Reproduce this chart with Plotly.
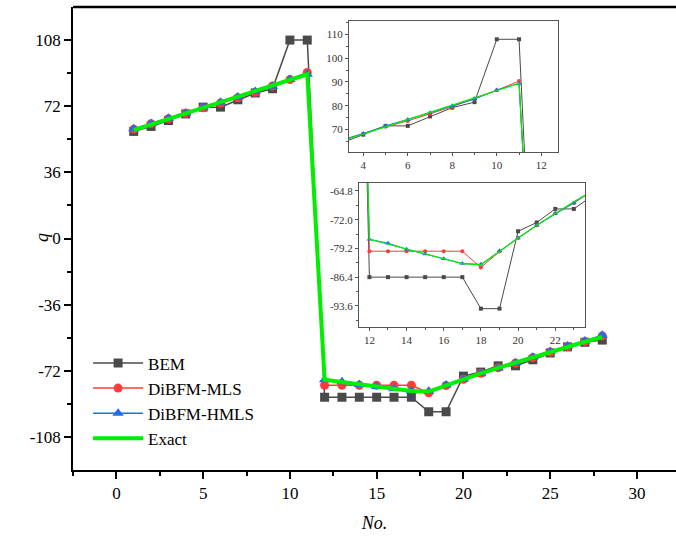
import plotly.graph_objects as go

# ---- data ----
node_no = list(range(1, 29))
bem = [58.3, 61.0, 64.2, 67.8, 71.5, 71.5, 75.5, 79.2, 81.5, 108.0, 108.0,
       -86.4, -86.4, -86.4, -86.4, -86.4, -86.4, -94.3, -94.3, -74.9, -72.7,
       -69.3, -69.3, -66.0, -62.3, -59.0, -56.5, -55.3]
dibfm_mls = [59.5, 62.5, 65.2, 68.2, 71.1, 73.6, 76.6, 79.6, 83.0, 86.5, 90.4,
             -79.9, -79.9, -79.9, -79.9, -79.9, -79.9, -84.0, -80.0, -76.6, -73.4,
             -70.4, -67.8, -64.8, -61.8, -58.8, -56.0, -53.0]
dibfm_hmls = [59.8, 62.6, 65.4, 68.3, 71.5, 74.2, 77.0, 80.0, 82.8, 86.6, 89.4,
              -76.9, -77.9, -79.4, -80.6, -81.8, -83.0, -83.2, -79.8, -76.6, -73.4,
              -70.5, -67.8, -64.6, -61.5, -58.5, -55.8, -52.6]
exact = [59.0, 62.0, 65.1, 68.1, 71.2, 74.2, 77.2, 80.3, 83.3, 86.4, 89.4,
         -76.9, -78.1, -79.4, -80.6, -81.8, -83.0, -83.3, -79.9, -76.6, -73.4,
         -70.4, -67.5, -64.8, -61.8, -58.8, -56.2, -53.6]

main_xticks = [0, 5, 10, 15, 20, 25, 30]
main_yticks = [-108, -72, -36, 0, 36, 72, 108]
inset1_xticks = [4, 6, 8, 10, 12]
inset1_yticks = [70, 80, 90, 100, 110]
inset2_xticks = [12, 14, 16, 18, 20, 22]
inset2_yticks = [-93.6, -86.4, -79.2, -72.0, -64.8]

names = ["BEM", "DiBFM-MLS", "DiBFM-HMLS", "Exact"]
series = [bem, dibfm_mls, dibfm_hmls, exact]
colors = ["#4a4a4a", "#ff3b3b", "#1f6fe8", "#00ee00"]
symbols = ["square", "circle", "triangle-up", None]

FONT = "Liberation Serif, Times New Roman, serif"
fig = go.Figure()

# main traces
for nm, ys, c, s in zip(names, series, colors, symbols):
    if s is None:
        fig.add_trace(go.Scatter(x=node_no, y=ys, name=nm, mode="lines",
                                 line=dict(color=c, width=4)))
    else:
        fig.add_trace(go.Scatter(x=node_no, y=ys, name=nm, mode="lines+markers",
                                 line=dict(color=c, width=1.5),
                                 marker=dict(symbol=s, size=9 if s != "triangle-up" else 10, color=c)))

# inset traces
for ax in ("2", "3"):
    for nm, ys, c, s in zip(names, series, colors, symbols):
        if s is None:
            fig.add_trace(go.Scatter(x=node_no, y=ys, mode="lines", showlegend=False,
                                     line=dict(color=c, width=1.2),
                                     xaxis="x" + ax, yaxis="y" + ax))
        else:
            fig.add_trace(go.Scatter(x=node_no, y=ys, mode="lines+markers", showlegend=False,
                                     line=dict(color=c, width=1),
                                     marker=dict(symbol=s, size=4 if s != "triangle-up" else 5, color=c),
                                     xaxis="x" + ax, yaxis="y" + ax))

W, H = 676, 538
L, R, T, B = 73, 0, 7, 68
pw, ph = W - L - R, H - T - B


def dom_x(a, b):
    return [(a - L) / pw, (b - L) / pw]


def dom_y(top, bot):
    return [(H - B - bot) / ph, (H - B - top) / ph]


main_axis = dict(showline=True, linecolor="black", linewidth=1.5, ticks="outside",
                 ticklen=7, tickwidth=1.5, tickcolor="black", showgrid=False, zeroline=False,
                 tickfont=dict(family=FONT, size=17, color="black"))

inset_axis = dict(showline=True, mirror=True, linecolor="#555555", linewidth=1, ticks="outside",
                  ticklen=3, tickwidth=1, tickcolor="#555555", showgrid=False, zeroline=False,
                  tickfont=dict(family=FONT, size=11, color="#333333"))

fig.update_layout(
    width=W, height=H, margin=dict(l=L, r=R, t=T, b=B),
    paper_bgcolor="white", plot_bgcolor="white",
    font=dict(family=FONT, color="black"),
    xaxis=dict(main_axis, range=[-2.5, 32.25], domain=[0, 1],
               tickvals=main_xticks, ticktext=[str(v) for v in main_xticks],
               minor=dict(tickvals=[-2.5 + 5 * i for i in range(7)], ticks="outside",
                          ticklen=4, tickwidth=1.5, tickcolor="black"),
               title=dict(text="<i>No.</i>", font=dict(family=FONT, size=18), standoff=14)),
    yaxis=dict(main_axis, range=[-126, 126], domain=[0, 1],
               tickvals=main_yticks, ticktext=[str(v) for v in main_yticks],
               minor=dict(tickvals=[-90, -54, -18, 18, 54, 90], ticks="outside",
                          ticklen=4, tickwidth=1.5, tickcolor="black")),
    xaxis2=dict(inset_axis, anchor="y2", domain=dom_x(349, 558), range=[3.36, 12.75],
                tickvals=inset1_xticks, ticktext=[str(v) for v in inset1_xticks],
                minor=dict(tickvals=[5, 7, 9, 11], ticks="outside", ticklen=2, tickcolor="#555555")),
    yaxis2=dict(inset_axis, anchor="x2", domain=dom_y(21, 152), range=[60.5, 115.7],
                tickvals=inset1_yticks, ticktext=[str(v) for v in inset1_yticks],
                minor=dict(tickvals=[65, 75, 85, 95, 105, 115], ticks="outside", ticklen=2,
                           tickcolor="#555555")),
    xaxis3=dict(inset_axis, anchor="y3", domain=dom_x(359, 585), range=[11.44, 23.6],
                tickvals=inset2_xticks, ticktext=[str(v) for v in inset2_xticks],
                minor=dict(tickvals=[13, 15, 17, 19, 21, 23], ticks="outside", ticklen=2,
                           tickcolor="#555555")),
    yaxis3=dict(inset_axis, anchor="x3", domain=dom_y(183, 327), range=[-98.9, -62.8],
                tickvals=inset2_yticks, ticktext=["%.1f" % v for v in inset2_yticks],
                minor=dict(tickvals=[-97.2, -90.0, -82.8, -75.6, -68.4], ticks="outside",
                           ticklen=2, tickcolor="#555555")),
    legend=dict(x=0.025, y=0.269, xanchor="left", yanchor="top", bgcolor="rgba(0,0,0,0)",
                font=dict(family=FONT, size=17, color="black"), itemwidth=50,
                tracegroupgap=0),
    shapes=[dict(type="line", xref="paper", yref="paper", x0=0, x1=1, y0=1, y1=1,
                 line=dict(color="black", width=2.5))],
    annotations=[dict(text="<i>q</i>", xref="paper", yref="paper",
                      x=(30 - L) / pw, y=(H - B - 238) / ph, showarrow=False,
                      textangle=-90, font=dict(family=FONT, size=18, color="black"))],
)

fig.write_html("out.html")
